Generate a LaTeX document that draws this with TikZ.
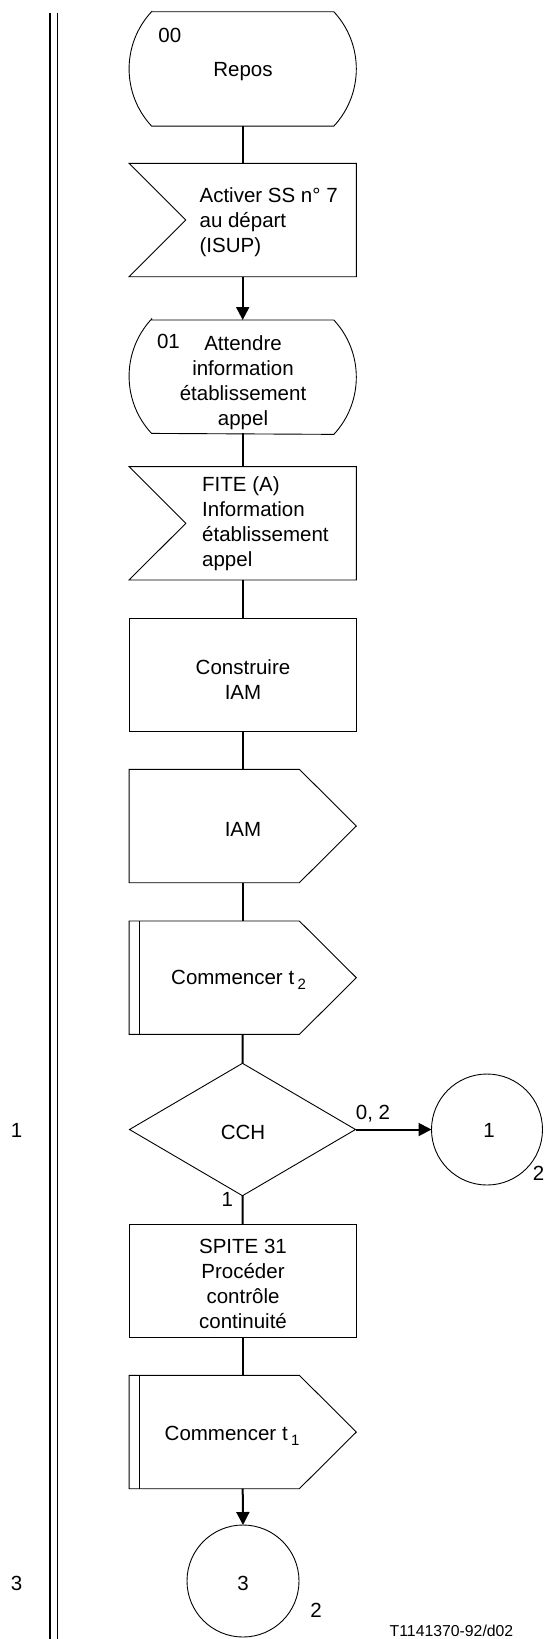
\documentclass[tikz,border=0pt]{standalone}
\usepackage{fontspec}
\setmainfont{Liberation Sans}
\usetikzlibrary{arrows.meta,calc}
\newcommand{\sdlstate}[1]{%
  \draw[outline] ($(#1.north west)+(22.5,0)$) -- ($(#1.north east)+(-22.5,0)$)
    arc[start angle=42.9,end angle=-42.9,radius=84]
    -- ($(#1.south west)+(22.5,0)$)
    arc[start angle=222.9,end angle=137.1,radius=84] -- cycle;}
\newcommand{\sdlinput}[1]{%
  \draw[outline] (#1.north west) -- (#1.north east) -- (#1.south east) -- (#1.south west)
    -- ($(#1.west)+(56.8,0)$) -- cycle;}
\newcommand{\sdloutput}[1]{%
  \draw[outline] (#1.north west) -- ($(#1.north east)+(-57,0)$) -- (#1.east)
    -- ($(#1.south east)+(-57,0)$) -- (#1.south west) -- cycle;}
\newcommand{\sdltimer}[1]{%
  \sdloutput{#1}
  \draw[line width=1.5pt] ($(#1.north west)+(10.5,0)$) -- ($(#1.south west)+(10.5,0)$);}
\begin{document}
\begin{tikzpicture}[x=1pt,y=1pt,
  frame/.style={draw=none,minimum width=227.3pt,minimum height=113.4pt,inner sep=0pt,outer sep=0pt},
  outline/.style={draw=black,line width=0.9pt,line join=miter},
  boxnode/.style={frame,draw=black,line width=0.9pt},
  conn/.style={draw=black,line width=2pt},
  arr/.style={conn,-{Triangle[length=13pt,width=13pt]}},
  txt/.style={font=\fontsize{20.5}{25}\selectfont,inner sep=0pt,align=center},
  circ/.style={circle,draw=black,line width=0.9pt,inner sep=0pt,outer sep=0pt,minimum size=111pt},
  vline/.style={line width=1.8pt}]
\useasboundingbox (0,0) rectangle (548,-1639);

% left double line
\coordinate (la1) at (50,-12.7);
\coordinate (la2) at (50,-1639);
\coordinate (lb1) at (57.5,-12.7);
\coordinate (lb2) at (57.5,-1639);
\draw[vline] (la1) -- (la2);
\draw[vline] (lb1) -- (lb2);

% frames
\node[frame,minimum height=114.3pt] (s00) at (242.7,-68.9) {};
\node[frame] (in1) at (242.7,-220) {};
\node[frame] (s01) at (242.7,-376.7) {};
\node[frame] (in2) at (242.7,-523.3) {};
\node[boxnode] (task1) at (242.7,-675) {};
\node[frame] (out1) at (242.7,-826) {};
\node[frame] (tim2) at (242.7,-977.7) {};
\node[frame,minimum width=226pt,minimum height=132.4pt] (dec) at (242.5,-1129.5) {};
\node[circ] (c1) at (487,-1129.5) {};
\node[boxnode] (task2) at (242.7,-1280.8) {};
\node[frame] (tim1) at (242.7,-1432) {};
\node[circ,minimum size=112pt] (c3) at (243,-1581) {};

% outlines
\sdlstate{s00}
\sdlinput{in1}
\sdlstate{s01}
\sdlinput{in2}
\sdloutput{out1}
\sdltimer{tim2}
\draw[outline] (dec.north) -- (dec.east) -- (dec.south) -- (dec.west) -- cycle;
\sdltimer{tim1}

% texts
\node[txt] (t00) at (169.8,-35) {00};
\node[txt] (trepos) at (243,-71.7) {Repos};
\node[txt,align=left,anchor=west] (tin1) at (199.4,-222) {Activer SS n° 7\\au départ\\(ISUP)};
\node[txt] (t01) at (168.4,-341.7) {01};
\node[txt] (ts01) at (243,-383) {Attendre\\information\\établissement\\appel};
\node[txt,align=left,anchor=west] (tin2) at (202,-523.5) {FITE (A)\\Information\\établissement\\appel};
\node[txt] (ttask1) at (243,-679.5) {Construire\\IAM};
\node[txt] (tout1) at (243,-829) {IAM};
\node[txt,anchor=base west] (ttim2) at (171,-984) {Commencer t\,\raisebox{-5pt}{\fontsize{15}{15}\selectfont 2}};
\node[txt] (tdec) at (243,-1132) {CCH};
\node[txt] (t02) at (373,-1114) {0, 2};
\node[txt] (tc1) at (489,-1130) {1};
\node[txt] (tc1b) at (538.6,-1173) {2};
\node[txt] (tdec1) at (227.3,-1199) {1};
\node[txt] (ttask2) at (243,-1284) {SPITE 31\\Procéder\\contrôle\\continuité};
\node[txt,anchor=base west] (ttim1) at (164.5,-1440) {Commencer t\,\raisebox{-5pt}{\fontsize{15}{15}\selectfont 1}};
\node[txt] (tc3) at (243,-1583) {3};
\node[txt] (tc3b) at (316,-1610) {2};
\node[txt] (tl1) at (16.7,-1130) {1};
\node[txt] (tl3) at (16.7,-1583) {3};
\node[txt,font=\fontsize{15.8}{18}\selectfont] (tref) at (451.5,-1630.7) {T1141370-92/d02};

% connectors
\draw[conn] (s00.south) -- (in1.north);
\draw[arr] (in1.south) -- (s01.north);
\draw[conn] (s01.south) -- (in2.north);
\draw[conn] (in2.south) -- (task1.north);
\draw[conn] (task1.south) -- (out1.north);
\draw[conn] (out1.south) -- (tim2.north);
\draw[conn] (tim2.south) -- (dec.north);
\draw[arr] (dec.east) -- (c1.west);
\draw[conn] (dec.south) -- (task2.north);
\draw[conn] (task2.south) -- (tim1.north);
\draw[arr] (tim1.south) -- (c3.north);
\end{tikzpicture}
\end{document}
